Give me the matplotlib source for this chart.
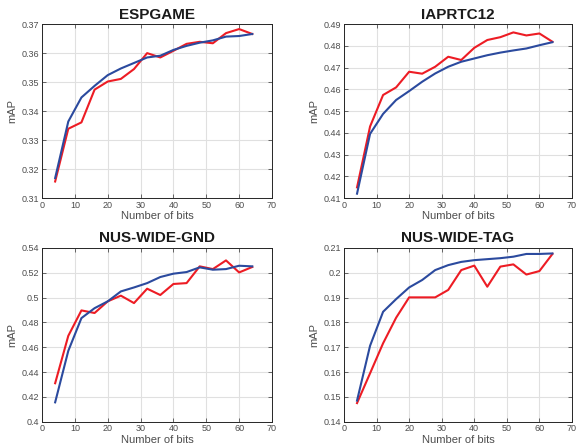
import matplotlib
matplotlib.use("Agg")
import matplotlib.pyplot as plt
import numpy as np

plt.rcParams['font.family'] = ['Liberation Sans', 'DejaVu Sans']

bits = [4, 8, 12, 16, 20, 24, 28, 32, 36, 40, 44, 48, 52, 56, 60, 64]

titles = ["ESPGAME", "IAPRTC12", "NUS-WIDE-GND", "NUS-WIDE-TAG"]

esp_red = [0.3157, 0.3339, 0.3361, 0.3474, 0.3502, 0.3511, 0.3545, 0.3600,
           0.3585, 0.3608, 0.3632, 0.3639, 0.3634, 0.3669, 0.3683, 0.3666]
esp_blue = [0.3169, 0.3364, 0.3447, 0.3487, 0.3524, 0.3547, 0.3566, 0.3585,
            0.3591, 0.3611, 0.3625, 0.3636, 0.3644, 0.3657, 0.3659, 0.3666]

iap_red = [0.4149, 0.4429, 0.4574, 0.4609, 0.4681, 0.4672, 0.4704, 0.4750,
           0.4735, 0.4791, 0.4827, 0.4840, 0.4862, 0.4848, 0.4857, 0.4819]
iap_blue = [0.4120, 0.4395, 0.4487, 0.4551, 0.4592, 0.4635, 0.4673, 0.4704,
            0.4727, 0.4742, 0.4757, 0.4769, 0.4779, 0.4788, 0.4803, 0.4817]

gnd_red = [0.4310, 0.4692, 0.4897, 0.4876, 0.4970, 0.5016, 0.4956, 0.5072,
           0.5021, 0.5110, 0.5117, 0.5252, 0.5230, 0.5300, 0.5203, 0.5247]
gnd_blue = [0.4156, 0.4571, 0.4835, 0.4915, 0.4970, 0.5050, 0.5082, 0.5117,
            0.5166, 0.5193, 0.5206, 0.5244, 0.5225, 0.5230, 0.5257, 0.5252]

tag_red = [0.1475, 0.1595, 0.1716, 0.1819, 0.1901, 0.1901, 0.1901, 0.1931,
           0.2011, 0.2029, 0.1944, 0.2025, 0.2034, 0.1993, 0.2007, 0.2076]
tag_blue = [0.1485, 0.1706, 0.1843, 0.1894, 0.1941, 0.1971, 0.2011, 0.2031,
            0.2044, 0.2051, 0.2055, 0.2059, 0.2065, 0.2076, 0.2076, 0.2078]

reds = [esp_red, iap_red, gnd_red, tag_red]
blues = [esp_blue, iap_blue, gnd_blue, tag_blue]

ylims = [(0.31, 0.37), (0.41, 0.49), (0.40, 0.54), (0.14, 0.21)]
yticks = [
    [0.31, 0.32, 0.33, 0.34, 0.35, 0.36, 0.37],
    [0.41, 0.42, 0.43, 0.44, 0.45, 0.46, 0.47, 0.48, 0.49],
    [0.40, 0.42, 0.44, 0.46, 0.48, 0.50, 0.52, 0.54],
    [0.14, 0.15, 0.16, 0.17, 0.18, 0.19, 0.20, 0.21],
]
ytick_labels = [
    ["0.31", "0.32", "0.33", "0.34", "0.35", "0.36", "0.37"],
    ["0.41", "0.42", "0.43", "0.44", "0.45", "0.46", "0.47", "0.48", "0.49"],
    ["0.4", "0.42", "0.44", "0.46", "0.48", "0.5", "0.52", "0.54"],
    ["0.14", "0.15", "0.16", "0.17", "0.18", "0.19", "0.2", "0.21"],
]
xticks = [0, 10, 20, 30, 40, 50, 60, 70]

fig = plt.figure(figsize=(5.77, 4.47), dpi=100)

positions = [
    [0.0728, 0.557, 0.3986, 0.389],
    [0.5962, 0.557, 0.3951, 0.389],
    [0.0728, 0.0566, 0.3986, 0.3886],
    [0.5962, 0.0566, 0.3951, 0.3886],
]

red_c = (0.93, 0.11, 0.14)
blue_c = (0.17, 0.29, 0.62)
grey = (0.15, 0.15, 0.15)

for i in range(4):
    ax = fig.add_axes(positions[i])
    ax.plot(bits, reds[i], color=red_c, lw=1.5, zorder=3)
    ax.plot(bits, blues[i], color=blue_c, lw=1.5, zorder=3)
    ax.set_xlim(0, 70)
    ax.set_ylim(*ylims[i])
    ax.set_xticks(xticks)
    ax.set_xticklabels([str(t) for t in xticks])
    ax.set_yticks(yticks[i])
    ax.set_yticklabels(ytick_labels[i])
    ax.grid(True, color=(0.88, 0.88, 0.88), lw=0.8, zorder=0)
    ax.set_axisbelow(True)
    ax.tick_params(direction='in', length=3, width=0.6, labelsize=6.5,
                   colors=(0.3, 0.3, 0.3), top=True, right=True, pad=2)
    for sp in ax.spines.values():
        sp.set_color(grey)
        sp.set_linewidth(0.7)
    ax.set_title(titles[i], fontsize=11, fontweight='bold', color=(0.1, 0.1, 0.1), pad=4)
    ax.set_xlabel("Number of bits", fontsize=8, color=(0.3, 0.3, 0.3), labelpad=1)
    ax.set_ylabel("mAP", fontsize=8, color=(0.3, 0.3, 0.3), labelpad=3)

fig.savefig("out.png", dpi=100)
